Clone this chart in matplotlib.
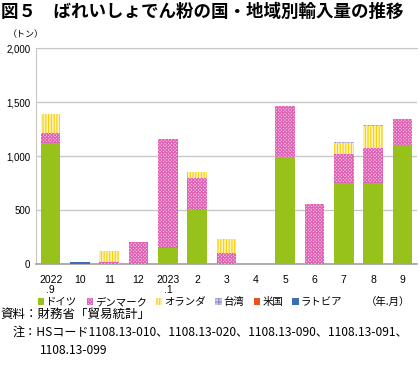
import matplotlib.pyplot as plt
import numpy as np

plt.rcParams['font.family'] = ['Noto Sans CJK JP', 'DejaVu Sans']
plt.rcParams['hatch.linewidth'] = 0.8

months = ["2022\n.9", "10", "11", "12", "2023\n.1", "2", "3", "4", "5", "6", "7", "8", "9"]
germany = [1120, 0, 0, 0, 152, 500, 0, 0, 991, 0, 747, 747, 1099]
denmark = [93, 0, 20, 205, 1010, 296, 102, 0, 472, 559, 275, 331, 244]
netherlands = [172, 0, 100, 0, 0, 56, 127, 0, 0, 0, 102, 203, 0]
taiwan = [8, 0, 0, 0, 0, 0, 0, 3, 0, 0, 8, 6, 0]
usa = [0, 0, 0, 0, 0, 0, 0, 0, 0, 0, 0, 0, 0]
latvia = [0, 22, 0, 0, 0, 0, 0, 0, 0, 0, 0, 0, 0]
yticks = [0, 500, 1000, 1500, 2000]

fig = plt.figure(figsize=(4.2, 3.66), dpi=100)
ax = fig.add_axes([36 / 420, 1 - 264 / 366, 381 / 420, 216 / 366])

x = np.arange(len(months))
w = 0.67
bottom = np.zeros(len(months))
series = [
    ("ドイツ", germany, dict(color="#97C21C")),
    ("デンマーク", denmark, dict(facecolor="#F7CDEB", edgecolor="#E060B4", hatch="xxxxxxxxxx", linewidth=0)),
    ("オランダ", netherlands, dict(facecolor="#FFF2BC", edgecolor="#F5CF00", hatch="||||||", linewidth=0)),
    ("台湾", taiwan, dict(facecolor="#C8C8E8", edgecolor="#8A8AC8", hatch="++++", linewidth=0)),
    ("米国", usa, dict(color="#E8541E")),
    ("ラトビア", latvia, dict(color="#3C6DB4")),
]
handles = []
for name, vals, style in series:
    vals = np.array(vals, dtype=float)
    h = ax.bar(x, vals, w, bottom=bottom, label=name, zorder=3, **style)
    handles.append(h)
    bottom += vals

ax.set_ylim(0, 2000)
ax.set_xlim(-0.5, len(months) - 0.5)
ax.set_yticks(yticks)
ax.set_yticklabels([f"{v:,}" for v in yticks], fontsize=7, family="Liberation Sans")
ax.set_xticks(x)
ax.set_xticklabels(months, fontsize=7.5, family="Liberation Sans", linespacing=1.0)
ax.tick_params(axis="x", length=0, pad=8)
ax.tick_params(axis="y", length=0, pad=4)
ax.grid(axis="y", color="#C8C8C8", linewidth=1, zorder=0)
ax.spines["right"].set_visible(False)
ax.spines["top"].set_color("#C8C8C8")
ax.spines["left"].set_color("#C8C8C8")
ax.spines["bottom"].set_color("#A0A0A0")
ax.spines["bottom"].set_linewidth(1.2)

fig.text(0.003, 1 - 12 / 366, "図５　ばれいしょでん粉の国・地域別輸入量の推移",
         fontsize=12.6, fontweight="bold", va="center")
fig.text(8 / 420, 1 - 35 / 366, "（トン）", fontsize=6.5, va="center")

fig.legend(handles=handles, loc="center", bbox_to_anchor=(190 / 420, 1 - 302 / 366),
           ncol=6, frameon=False, fontsize=7.5, handlelength=0.6, handleheight=0.6,
           handletextpad=0.2, columnspacing=0.9, borderpad=0)
fig.text(410 / 420, 1 - 302 / 366, "（年.月）", fontsize=7.5, va="center", ha="right")

fig.text(0.0, 1 - 314 / 366, "資料：財務省「貿易統計」", fontsize=9, va="center")
fig.text(13 / 420, 1 - 332 / 366,
         "注：HSコード1108.13-010、1108.13-020、1108.13-090、1108.13-091、",
         fontsize=8.7, va="center")
fig.text(40 / 420, 1 - 350 / 366, "1108.13-099", fontsize=8.7, va="center")

fig.savefig("out.png", dpi=100)
